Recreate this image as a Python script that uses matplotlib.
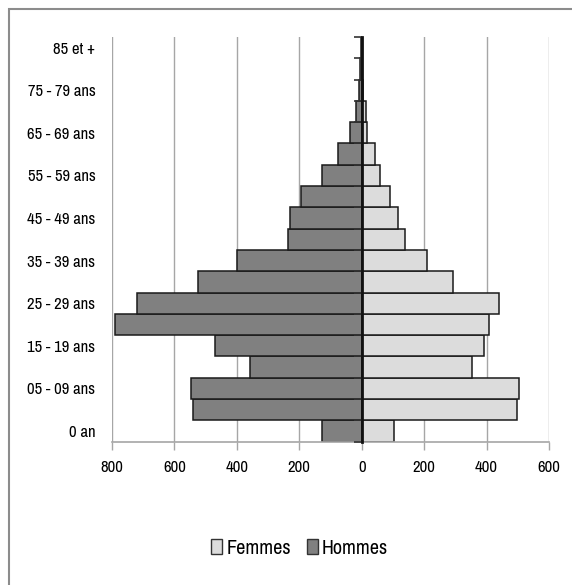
import numpy as np
import matplotlib
matplotlib.use("Agg")
import matplotlib.pyplot as plt
from matplotlib import font_manager
from matplotlib.patches import Rectangle, Patch

# pick a narrow font if one is installed, otherwise Liberation Sans
names = sorted({f.name for f in font_manager.fontManager.ttflist})
narrow = [n for n in names if 'Narrow' in n or 'Condensed' in n]
if narrow:
    base_font = narrow[0]
    tick_size, legend_size = 12, 14.5
else:
    base_font = 'Liberation Sans'
    tick_size, legend_size = 10, 12.5
plt.rcParams['font.family'] = [base_font, 'DejaVu Sans']

# Age groups, bottom to top
age_groups = ['0 an', '01 - 04 ans', '05 - 09 ans', '10 - 14 ans', '15 - 19 ans',
              '20 - 24 ans', '25 - 29 ans', '30 - 34 ans', '35 - 39 ans',
              '40 - 44 ans', '45 - 49 ans', '50 - 54 ans', '55 - 59 ans',
              '60 - 64 ans', '65 - 69 ans', '70 - 74 ans', '75 - 79 ans',
              '80 - 84 ans', '85 et +']
hommes = [127, 540, 546, 358, 471, 791, 721, 525, 401, 235, 231, 193, 127,
          77, 39, 18, 10, 4, 2]
femmes = [103, 499, 505, 353, 393, 408, 440, 291, 208, 139, 117, 90, 58,
          41, 16, 14, 3, 2, 1]
x_ticks = [-800, -600, -400, -200, 0, 200, 400, 600]

col_h = '#808080'
col_f = '#dcdcdc'
grid_col = '#a6a6a6'

fig = plt.figure(figsize=(5.72, 5.85), dpi=100)
ax_rect = [0.1958, 0.245, 0.764, 0.6918]
ax = fig.add_axes(ax_rect)

y = np.arange(len(age_groups))
ax.barh(y, [-v for v in hommes], height=1.0, color=col_h, edgecolor='#1a1a1a',
        linewidth=1.1, zorder=2, label='Hommes')
ax.barh(y, femmes, height=1.0, color=col_f, edgecolor='#1a1a1a',
        linewidth=1.1, zorder=2, label='Femmes')

ax.set_xlim(-800, 600)
ax.set_ylim(-0.5, len(age_groups) - 0.5)

# x axis
ax.set_xticks(x_ticks)
ax.set_xticklabels([str(abs(v)) for v in x_ticks], fontsize=tick_size)
ax.tick_params(axis='x', direction='out', length=6, width=1, color=grid_col,
               pad=7)
ax.grid(axis='x', color=grid_col, linewidth=1, zorder=0)
ax.set_axisbelow(True)

# y labels on the left, every other group
ax.set_yticks(y[::2])
ax.set_yticklabels(age_groups[::2], fontsize=tick_size)
ax.tick_params(axis='y', length=0, pad=12)

for s in ['left', 'right', 'top']:
    ax.spines[s].set_visible(False)
ax.spines['bottom'].set_color(grid_col)
ax.spines['bottom'].set_linewidth(1.2)

# vertical axis at zero with ticks on the group boundaries
x0 = (0 - ax.get_xlim()[0]) / (ax.get_xlim()[1] - ax.get_xlim()[0])
ax0 = fig.add_axes([ax_rect[0] + x0 * ax_rect[2], ax_rect[1], 1e-6, ax_rect[3]])
ax0.set_ylim(ax.get_ylim())
ax0.patch.set_visible(False)
ax0.set_xticks([])
ax0.set_yticks(np.arange(len(age_groups) + 1) - 0.5)
ax0.set_yticklabels([])
ax0.tick_params(axis='y', direction='out', length=6, width=1.2, color='#333333')
for s in ['right', 'top', 'bottom']:
    ax0.spines[s].set_visible(False)
ax0.spines['left'].set_linewidth(2)
ax0.spines['left'].set_color('#111111')
ax0.set_zorder(3)

# legend
handles = [Patch(facecolor=col_f, edgecolor='#333333', linewidth=1),
           Patch(facecolor=col_h, edgecolor='#333333', linewidth=1)]
fig.legend(handles, ['Femmes', 'Hommes'], loc='center', bbox_to_anchor=(0.524, 0.063),
           ncol=2, frameon=False, fontsize=legend_size, handlelength=0.55,
           handleheight=0.8, handletextpad=0.2, columnspacing=0.8)

# outer chart border
fig.patches.append(Rectangle((9 / 572, -0.1), 1.2, 0.9846 + 0.1, transform=fig.transFigure,
                             fill=False, edgecolor='#8c8c8c', linewidth=1.5))

fig.savefig('out.png', dpi=100, facecolor='white')
